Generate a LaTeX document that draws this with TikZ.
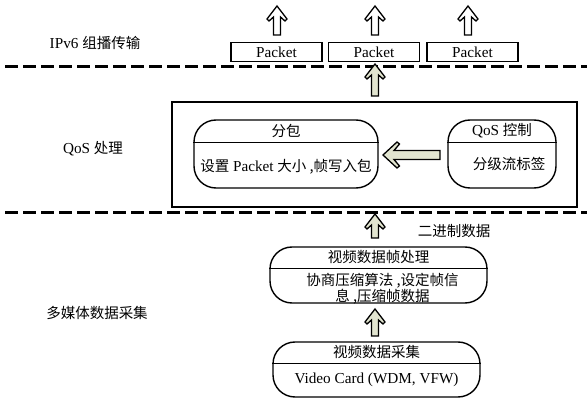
\documentclass[tikz,border=0pt]{standalone}
\usepackage{fontspec}
\setmainfont[Scale=1.05]{Liberation Serif}
\newfontfamily\cjk{Noto Sans CJK SC}
\usetikzlibrary{calc}
\definecolor{beige}{HTML}{E2E5D0}
\tikzset{
  lbl/.style={font=\fontsize{14.5}{16}\selectfont, inner sep=0pt},
  pkt/.style={draw, line width=1.3pt, minimum width=91pt, minimum height=19pt, inner sep=0pt, font=\fontsize{14.5}{16}\selectfont},
  rbox/.style={draw, line width=1.4pt, rounded corners=22pt, inner sep=0pt},
  divline/.style={line width=1.2pt},
  sepline/.style={line width=3pt, dash pattern=on 13pt off 5pt},
  hollow/.style={draw, line width=1.3pt, fill=white, line join=miter},
  filled/.style={draw, line width=1.3pt, fill=beige, line join=miter},
  outerbox/.style={draw, line width=1.6pt, inner sep=0pt}
}
\newcommand\upblk[3]{\draw[#1] let \p1=(#2), \p2=(#3) in
  (\x2,\y2) -- (\x2+10pt,\y2-13pt) -- (\x2+8pt,\y2-15pt) -- (\x2+3.5pt,\y2-11pt)
  -- (\x2+3.5pt,\y1) -- (\x2-3.5pt,\y1) -- (\x2-3.5pt,\y2-11pt) -- (\x2-8pt,\y2-15pt)
  -- (\x2-10pt,\y2-13pt) -- cycle;}
\newcommand\leftblk[3]{\draw[#1] let \p1=(#2), \p2=(#3) in
  (\x2,\y2) -- (\x2+14pt,\y2+13pt) -- (\x2+16.5pt,\y2+11pt) -- (\x2+11pt,\y2+4.5pt)
  -- (\x1,\y2+4.5pt) -- (\x1,\y2-4.5pt) -- (\x2+11pt,\y2-4.5pt) -- (\x2+16.5pt,\y2-11pt)
  -- (\x2+14pt,\y2-13pt) -- cycle;}
\begin{document}
\begin{tikzpicture}[x=1pt,y=-1pt]
\useasboundingbox (0,0) rectangle (587,398);
% separators
\coordinate (d1l) at (5,67); \coordinate (d1r) at (587,67);
\coordinate (d2l) at (5,213); \coordinate (d2r) at (587,213);
\draw[sepline] (d1l) -- (d1r);
\draw[sepline] (d2l) -- (d2r);
% left labels
\node[lbl] (lipv6) at (95,43) {IPv6 {\cjk 组播传输}};
\node[lbl] (lqos) at (93,149) {QoS {\cjk 处理}};
\node[lbl] (lmm) at (97,313) {\cjk 多媒体数据采集};
% packets
\node[pkt] (p1) at (276.5,52) {Packet};
\node[pkt] (p2) at (374,52) {Packet};
\node[pkt] (p3) at (472.5,52) {Packet};
\coordinate (a1b) at (277,35); \coordinate (a1t) at (277,6);
\coordinate (a2b) at (375,35); \coordinate (a2t) at (375,6);
\coordinate (a3b) at (468,35); \coordinate (a3t) at (468,6);
\upblk{hollow}{a1b}{a1t}
\upblk{hollow}{a2b}{a2t}
\upblk{hollow}{a3b}{a3t}
% QoS box
\node[outerbox, minimum width=405pt, minimum height=105pt] (qos) at (374.5,154.5) {};
\coordinate (a4b) at (375,96); \coordinate (a4t) at (375,64);
\upblk{filled}{a4b}{a4t}
% fenbao
\node[rbox, minimum width=184pt, minimum height=68pt] (fb) at (286,154) {};
\draw[divline] ($(fb.north west)+(0,23)$) -- ($(fb.north east)+(0,23)$);
\node[lbl] (fbt) at ($(fb.north)+(0,11.5)$) {\cjk 分包};
\node[lbl] (fbb) at ($(fb.north)+(0,47)$) {{\cjk 设置} Packet {\cjk 大小 ,帧写入包}};
% qos control
\node[rbox, minimum width=108pt, minimum height=68pt] (qc) at (502,154) {};
\draw[divline] ($(qc.north west)+(0,23)$) -- ($(qc.north east)+(0,23)$);
\node[lbl] (qct) at ($(qc.north)+(0,11.5)$) {QoS {\cjk 控制}};
\node[lbl] (qcb) at ($(qc.north)+(7,45)$) {\cjk 分级流标签};
\coordinate (lat) at (383,155); \coordinate (lab) at (440,155);
\leftblk{filled}{lab}{lat}
% lower arrows
\coordinate (a5b) at (375,238); \coordinate (a5t) at (375,214);
\upblk{filled}{a5b}{a5t}
\node[lbl] (bin) at (454,231) {\cjk 二进制数据};
% frame processing
\node[rbox, minimum width=217pt, minimum height=56pt] (pr) at (378.5,275) {};
\draw[divline] ($(pr.north west)+(0,22)$) -- ($(pr.north east)+(0,22)$);
\node[lbl] (prt) at ($(pr.north)+(0,11)$) {\cjk 视频数据帧处理};
\node[lbl, align=center] (prb) at ($(pr.north)+(4,42)$) {\cjk 协商压缩算法 ,设定帧信\\[0pt]\cjk 息 ,压缩帧数据};
\coordinate (a6b) at (375,336); \coordinate (a6t) at (375,309);
\upblk{filled}{a6b}{a6t}
% capture
\node[rbox, minimum width=207pt, minimum height=55pt] (cp) at (376.5,369.5) {};
\draw[divline] ($(cp.north west)+(0,22)$) -- ($(cp.north east)+(0,22)$);
\node[lbl] (cpt) at ($(cp.north)+(0,11)$) {\cjk 视频数据采集};
\node[lbl] (cpb) at ($(cp.north)+(0,38.5)$) {Video Card (WDM, VFW)};
\end{tikzpicture}
\end{document}
